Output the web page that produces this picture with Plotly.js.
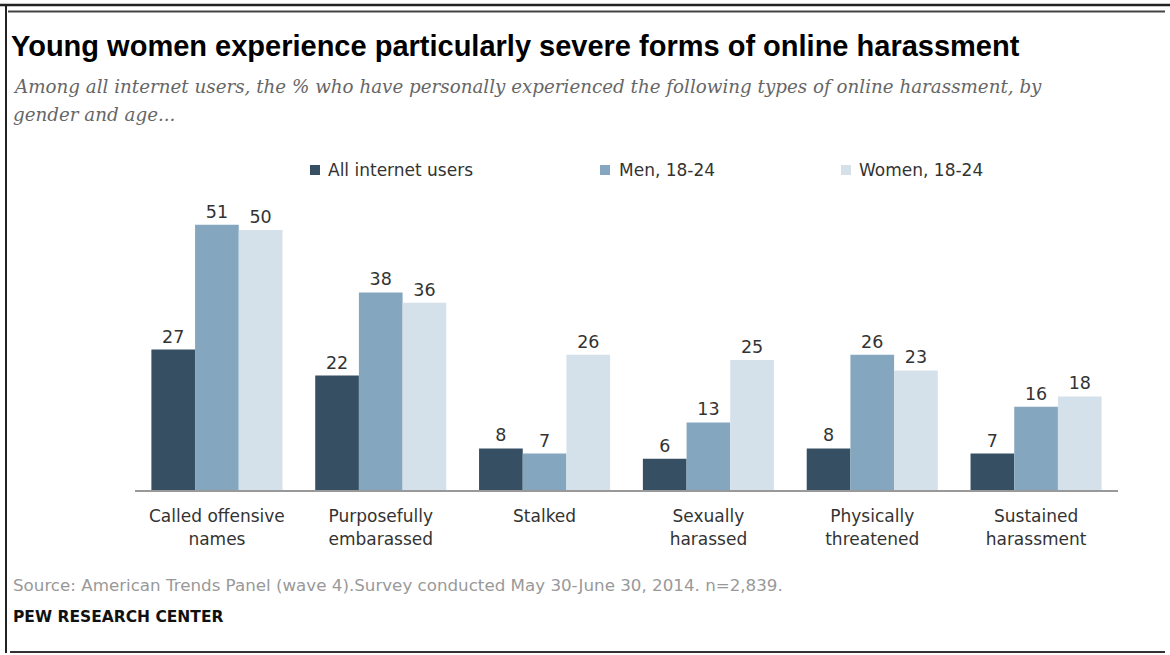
<!DOCTYPE html>
<html><head><meta charset="utf-8">
<script src="https://cdn.plot.ly/plotly-3.0.1.min.js"></script>
<style>html,body{margin:0;padding:0;background:#fff;}#chart{width:1170px;height:655px;}</style>
</head><body><div id="chart"></div>
<script>
const categories = ["Called offensive<br>names","Purposefully<br>embarassed","Stalked","Sexually<br>harassed","Physically<br>threatened","Sustained<br>harassment"];
const seriesNames = ["All internet users","Men, 18-24","Women, 18-24"];
const allUsers = [27,22,8,6,8,7];
const men1824 = [51,38,7,13,26,16];
const women1824 = [50,36,26,25,23,18];
const colors = ["#364f63","#84a7bf","#d5e1ea"];

const W=1170,H=655, L=135, R=1118, T=204, B=490;
const px = x => (x-L)/(R-L);
const py = y => (B-y)/(B-T);
const sans = 'DejaVu Sans, Verdana, sans-serif';

const seriesVals=[allUsers,men1824,women1824];
const traces = seriesVals.map((v,i)=>({
  type:'bar', x:categories, y:v, name:seriesNames[i],
  marker:{color:colors[i]}, text:v.map(String), textposition:'outside',
  textfont:{family:sans, size:17.5, color:'#333'},
  cliponaxis:false, hoverinfo:'skip'
}));

const legendX=[[310,326],[600,617],[841,857]];
const shapes=[
  {type:'line',xref:'paper',yref:'paper',x0:px(0),x1:px(1170),y0:py(5),y1:py(5),line:{color:'#222',width:2.5}},
  {type:'line',xref:'paper',yref:'paper',x0:px(8),x1:px(1165),y0:py(11.5),y1:py(11.5),line:{color:'#444',width:2}},
  {type:'line',xref:'paper',yref:'paper',x0:px(6),x1:px(6),y0:py(4),y1:py(653),line:{color:'#222',width:2}},
  {type:'line',xref:'paper',yref:'paper',x0:px(10),x1:px(1165),y0:py(652),y1:py(652),line:{color:'#333',width:2}}
];
const annotations=[];
seriesNames.forEach((n,i)=>{
  shapes.push({type:'rect',xref:'paper',yref:'paper',x0:px(legendX[i][0]),x1:px(legendX[i][0]+10),y0:py(165),y1:py(175),fillcolor:colors[i],line:{width:0}});
  annotations.push({xref:'paper',yref:'paper',x:px(legendX[i][1]),y:py(170),xanchor:'left',yanchor:'middle',showarrow:false,text:n,font:{family:sans,size:17,color:'#333'}});
});
annotations.push({xref:'paper',yref:'paper',x:px(11),y:py(86),xanchor:'left',yanchor:'middle',showarrow:false,
  text:'<i>Among all internet users, the % who have personally experienced the following types of online harassment, by</i>',
  font:{family:'DejaVu Serif, serif',size:18.3,color:'#666'}});
annotations.push({xref:'paper',yref:'paper',x:px(11),y:py(114),xanchor:'left',yanchor:'middle',showarrow:false,
  text:'<i>gender and age...</i>',font:{family:'DejaVu Serif, serif',size:18.3,color:'#666'}});
annotations.push({xref:'paper',yref:'paper',x:px(11),y:py(585),xanchor:'left',yanchor:'middle',showarrow:false,
  text:'Source: American Trends Panel (wave 4).Survey conducted May 30-June 30, 2014. n=2,839.',
  font:{family:sans,size:16.7,color:'#999'}});
annotations.push({xref:'paper',yref:'paper',x:px(11),y:py(617),xanchor:'left',yanchor:'middle',showarrow:false,
  text:'<b>PEW RESEARCH CENTER</b>',font:{family:sans,size:15.5,color:'#111'}});

const layout={
  width:W,height:H,margin:{l:L,r:W-R,t:T,b:H-B,pad:0},
  paper_bgcolor:'#fff',plot_bgcolor:'#fff',showlegend:false,
  barmode:'group',bargap:0.2,bargroupgap:0,
  title:{text:'<b>Young women experience particularly severe forms of online harassment</b>',
    xref:'container',yref:'container',x:11/W,y:1-46/H,xanchor:'left',yanchor:'middle',
    font:{family:'Liberation Sans, Arial, sans-serif',size:29,color:'#000'}},
  xaxis:{showgrid:false,showline:true,linecolor:'#999',linewidth:2,ticks:'',ticklabelstandoff:10,
    tickfont:{family:sans,size:17,color:'#333'},fixedrange:true},
  yaxis:{range:[0,55],visible:false,showgrid:false,zeroline:false,fixedrange:true},
  shapes:shapes,annotations:annotations,font:{family:sans}
};
Plotly.newPlot('chart',traces,layout,{displayModeBar:false,staticPlot:true});
</script></body></html>
